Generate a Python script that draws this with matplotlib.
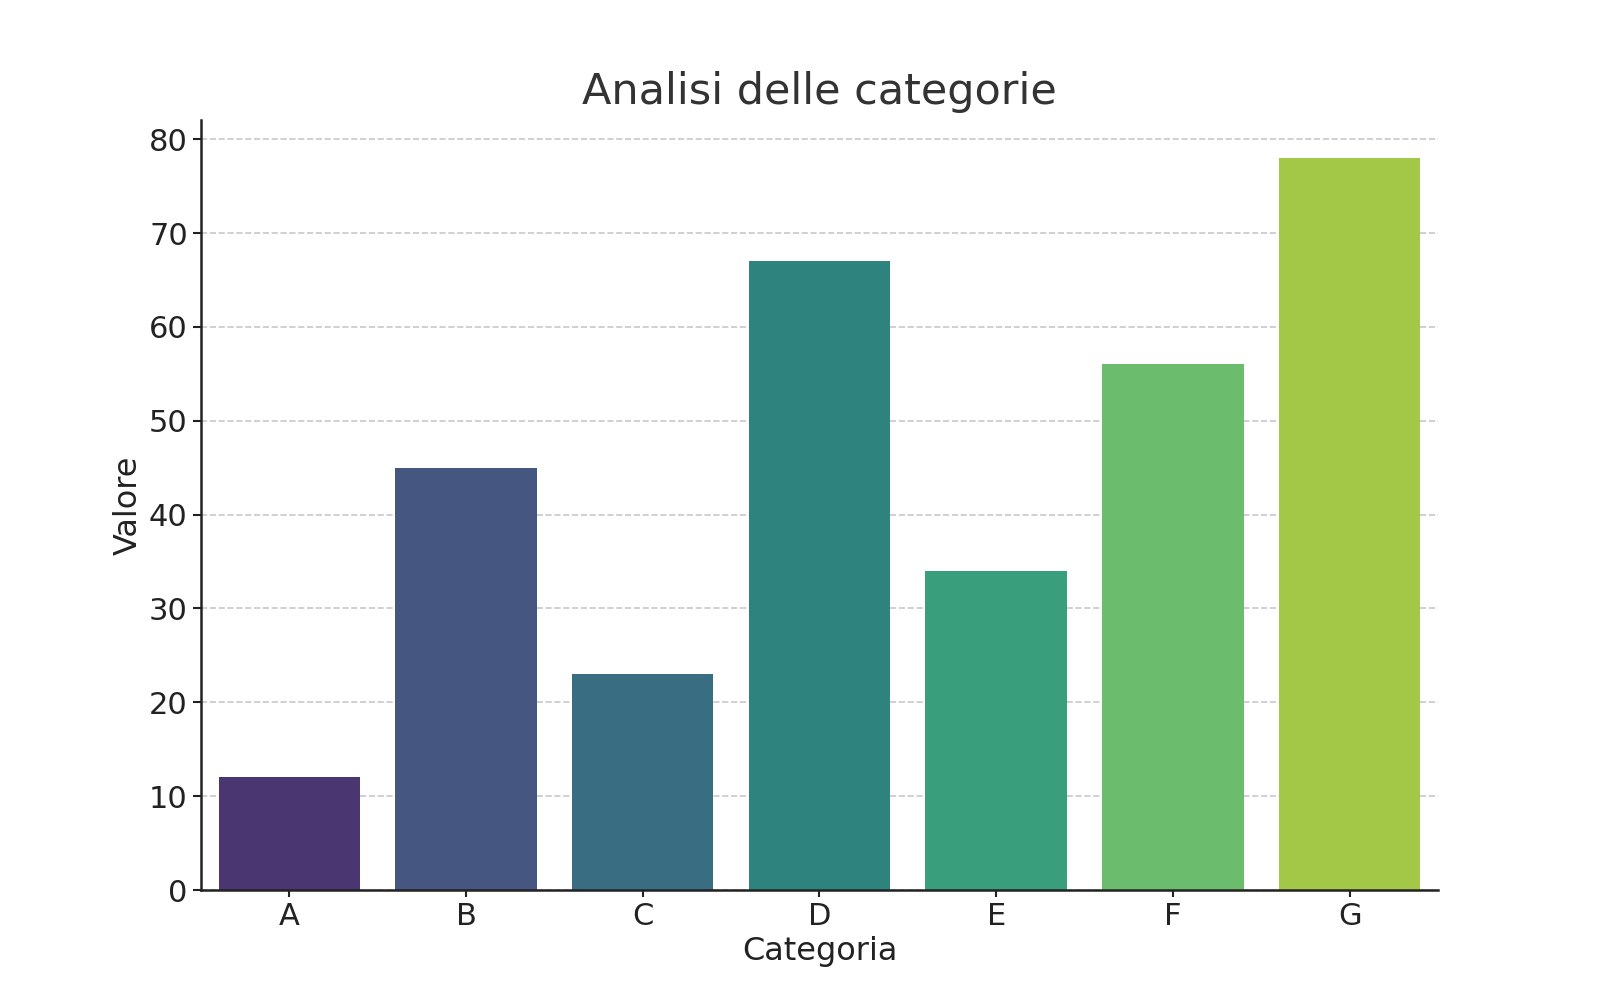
import numpy as np
import matplotlib
matplotlib.use("Agg")
import matplotlib.pyplot as plt
import seaborn as sns

categories = ["A", "B", "C", "D", "E", "F", "G"]
values = [12, 45, 23, 67, 34, 56, 78]

colors = sns.color_palette("viridis", len(categories), desat=0.75)

fig = plt.figure(figsize=(16, 10), dpi=100)
ax = fig.add_axes([0.1256, 0.110, 0.7731, 0.7696])

ax.bar(categories, values, color=colors, width=0.8, zorder=2)
ax.set_xlim(-0.5, len(categories) - 0.5)
ax.set_ylim(0, 82)
ax.set_yticks(np.arange(0, 90, 10))

ax.yaxis.grid(True, linestyle="--", color="#c8c8c8", linewidth=1.2, zorder=0)
ax.set_axisbelow(True)
for s in ("top", "right"):
    ax.spines[s].set_visible(False)
for s in ("left", "bottom"):
    ax.spines[s].set_linewidth(1.8)
    ax.spines[s].set_color("#222222")

ax.tick_params(axis="both", labelsize=22, length=6, width=1.5, colors="#222222")
ax.tick_params(axis="x", direction="inout", length=10)
ax.set_title("Analisi delle categorie", fontsize=31, color="#333333", pad=12)
ax.set_xlabel("Categoria", fontsize=23, color="#222222")
ax.set_ylabel("Valore", fontsize=23, color="#222222")

fig.savefig("out.png", dpi=100)
